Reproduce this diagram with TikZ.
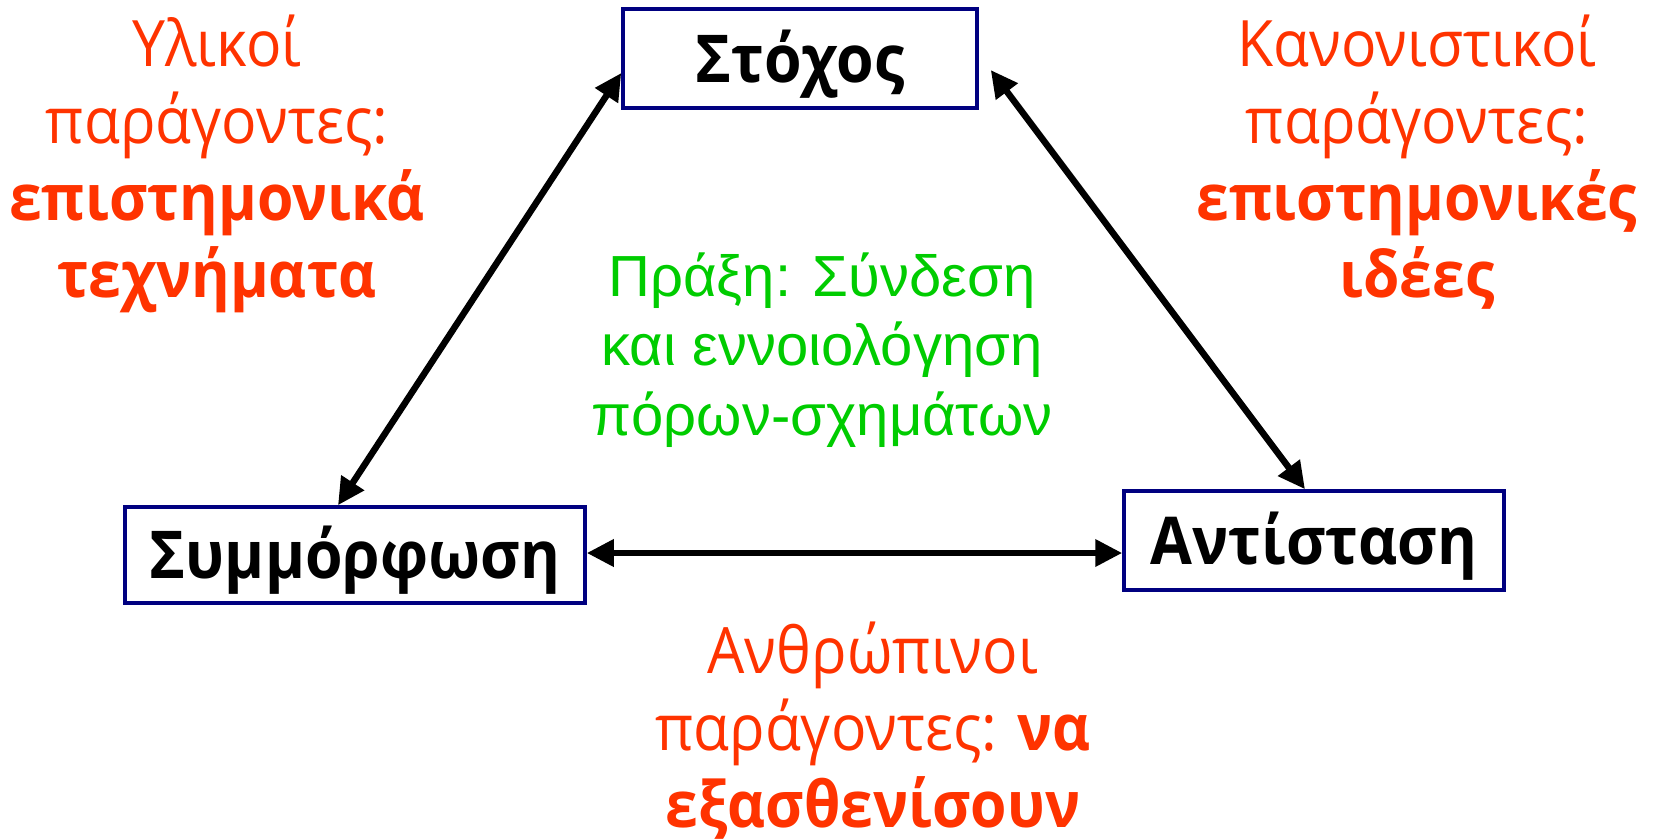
\documentclass[tikz,border=0pt]{standalone}
\usepackage{fontspec}
\usetikzlibrary{arrows.meta}
\newfontfamily\labelfont[FakeStretch=0.92]{Open Sans}
\newfontfamily\actionfont{Liberation Sans}
\definecolor{factorred}{RGB}{255,51,0}
\definecolor{actiongreen}{RGB}{0,204,0}
\definecolor{boxblue}{RGB}{0,0,128}
\tikzset{
  pole/.style={draw=boxblue, line width=3.5pt, inner sep=0pt, text height=47pt, text depth=0pt,
    font=\labelfont\bfseries\fontsize{66}{79}\selectfont},
  factor/.style={text=factorred, align=center, anchor=base, font=\labelfont\fontsize{64}{77}\selectfont},
  link/.style={line width=6.5pt, {Triangle[length=27pt,width=26pt]}-{Triangle[length=27pt,width=26pt]}},
}
\begin{document}
\begin{tikzpicture}[x=1pt,y=-1pt]
  \useasboundingbox (0,0) rectangle (1655,839);

  % Drawing the three poles
  \node [pole, minimum width=354pt, minimum height=99pt] (goal) at (800,58.5) {Στόχος};
  \node [pole, minimum width=460pt, minimum height=96pt] (comply) at (355,555) {Συμμόρφωση};
  \node [pole, minimum width=380pt, minimum height=99pt] (resist) at (1314,540.5) {Αντίσταση};

  % Drawing links between poles
  \draw [link] ([xshift=-17pt]comply.north) -- ([yshift=-14.5pt]goal.west);
  \draw [link] ([xshift=12pt,yshift=-11.5pt]goal.east) -- ([xshift=-9pt]resist.north);
  \draw [link] ([yshift=2pt]comply.east) -- ([yshift=-12.5pt]resist.west);

  % Marking the factors (anchored at the last line)
  \node [factor] (material) at (217,297) {Υλικοί\\παράγοντες:\\{\bfseries επιστημονικά}\\{\bfseries τεχνήματα}};
  \node [factor] (normative) at (1417,297) {Κανονιστικοί\\παράγοντες:\\{\bfseries επιστημονικές}\\{\bfseries ιδέες}};
  \node [factor] (human) at (873,827) {Ανθρώπινοι\\παράγοντες: {\bfseries να}\\{\bfseries εξασθενίσουν}};

  % Marking the action
  \node [factor, text=actiongreen, font=\actionfont\fontsize{58}{69.5}\selectfont] (action) at (822,435)
    {Πράξη: Σύνδεση\\και εννοιολόγηση\\πόρων-σχημάτων};
\end{tikzpicture}
\end{document}
